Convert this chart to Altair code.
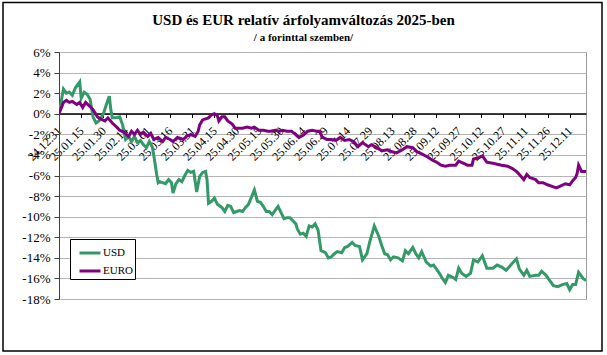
import altair as alt
import pandas as pd

# Day offsets from 2024-12-31 and relative change (%)
usd_days = [0, 3, 5, 7, 9, 11, 14, 15, 17, 19, 21, 23, 25, 27, 30, 32, 34, 35, 36, 38, 41, 43, 45, 47, 49, 51, 53, 55, 57, 59,
            61, 63, 64, 66, 67, 68, 70, 72, 74, 76, 77, 79, 81, 83, 85, 87, 89, 91, 93, 95, 97, 99, 100, 101, 103, 105, 107,
            110, 112, 114, 116, 118, 120, 122, 124, 126, 128, 130, 132, 134, 136, 138, 140, 142, 144, 146, 148, 150, 152,
            154, 156, 158, 160, 161, 163, 165, 167, 169, 171, 173, 175, 177, 180, 182, 184, 186, 188, 191, 193, 195, 198,
            200, 203, 205, 208, 210, 213, 216, 218, 220, 222, 224, 226, 229, 232, 234, 236, 239, 241, 243, 245, 248, 251,
            253, 255, 257, 259, 261, 263, 266, 268, 270, 272, 275, 278, 280, 283, 286, 289, 293, 296, 299, 302, 304, 307,
            309, 311, 314, 316, 318, 322, 324, 326, 329, 332, 334, 337, 340, 343, 345, 347, 349, 351, 354, 356]
usd_vals = [0.0, 2.4, 2.0, 2.1, 1.8, 2.5, 3.1, 1.5, 2.1, 1.9, 1.4, -0.3, -0.9, -0.7, 0.0, 0.9, 1.7, 0.4, -0.4, -0.4, -0.3,
            -1.1, -2.5, -2.2, -2.7, -2.2, -2.8, -2.6, -3.0, -3.3, -2.7, -3.2, -4.0, -5.9, -6.7, -6.6, -6.7, -6.8, -6.4,
            -6.7, -7.7, -6.8, -6.4, -6.6, -6.0, -5.5, -5.7, -5.6, -7.6, -6.1, -5.7, -5.6, -6.4, -8.7, -8.5, -8.2, -8.8,
            -9.1, -9.5, -8.9, -9.0, -9.6, -9.5, -9.4, -9.5, -9.1, -8.8, -8.1, -7.4, -8.5, -8.6, -9.0, -9.5, -9.5, -9.8,
            -9.4, -9.0, -9.6, -10.2, -10.1, -10.1, -10.4, -10.7, -11.2, -11.7, -11.6, -11.9, -10.9, -11.0, -10.7, -11.3,
            -13.3, -13.5, -14.0, -13.9, -13.6, -13.4, -13.5, -13.0, -12.9, -12.5, -12.8, -12.9, -14.2, -13.6, -12.4,
            -10.9, -11.9, -12.8, -13.6, -13.7, -14.2, -13.9, -14.0, -14.3, -13.3, -13.6, -13.0, -13.6, -14.0, -13.4,
            -14.4, -14.8, -14.7, -15.1, -15.5, -16.0, -16.4, -15.7, -15.9, -16.1, -15.0, -15.5, -15.8, -15.5, -14.2,
            -14.4, -13.8, -15.0, -15.0, -14.7, -14.9, -15.2, -14.9, -14.4, -14.1, -15.1, -15.7, -15.2, -15.8, -15.7,
            -15.7, -15.3, -15.7, -16.3, -16.7, -16.8, -16.6, -16.5, -17.1, -16.6, -16.6, -15.4, -16.0, -16.2]

eur_days = [0, 3, 5, 7, 9, 12, 14, 16, 18, 21, 23, 26, 28, 31, 33, 36, 39, 41, 44, 47, 49, 51, 53, 55, 57, 60, 62, 64, 67,
            70, 72, 75, 77, 80, 84, 86, 89, 92, 94, 95, 97, 99, 101, 103, 105, 107, 108, 110, 112, 114, 117, 119, 122,
            124, 127, 130, 132, 135, 138, 141, 143, 146, 149, 151, 154, 157, 159, 162, 165, 168, 171, 174, 176, 178,
            181, 184, 187, 190, 193, 196, 199, 202, 205, 209, 211, 215, 218, 222, 225, 228, 232, 235, 239, 242, 245,
            249, 252, 255, 258, 261, 264, 268, 270, 273, 276, 279, 280, 283, 286, 289, 293, 296, 299, 303, 306, 309,
            311, 314, 316, 318, 322, 324, 327, 330, 334, 336, 339, 342, 345, 347, 349, 350, 351, 353, 356]
eur_vals = [0.0, 1.1, 1.3, 1.1, 1.2, 0.9, 1.1, 0.6, 1.1, 0.7, 0.4, -0.3, -0.5, -0.7, -0.4, -0.9, -1.3, -1.6, -1.8, -2.2,
            -1.7, -2.0, -1.6, -2.0, -1.8, -2.2, -1.9, -2.5, -2.3, -2.7, -2.3, -2.5, -2.7, -2.3, -2.5, -2.2, -2.0, -2.2,
            -1.7, -1.1, -0.6, -0.5, -0.4, -0.1, 0.0, -0.2, -0.7, -0.3, -0.3, -0.7, -1.0, -1.4, -1.4, -1.4, -1.3, -1.4,
            -1.3, -1.6, -1.6, -1.7, -1.7, -1.6, -1.7, -1.6, -1.7, -1.7, -1.9, -2.3, -2.1, -1.7, -1.6, -1.7, -1.7, -2.3,
            -2.5, -2.5, -2.6, -2.3, -2.6, -2.5, -2.7, -3.2, -2.8, -3.2, -3.0, -3.3, -3.6, -3.5, -3.7, -3.8, -3.5, -3.2,
            -3.3, -3.7, -3.9, -4.2, -4.5, -4.7, -5.0, -5.1, -5.0, -5.0, -4.6, -4.8, -5.0, -5.0, -4.4, -4.3, -4.1, -4.7,
            -4.8, -4.9, -5.0, -5.1, -5.3, -5.6, -5.9, -6.4, -5.9, -6.2, -6.4, -6.7, -6.7, -6.9, -7.1, -7.2, -7.0, -6.8,
            -6.9, -6.5, -6.2, -5.8, -5.0, -5.6, -5.6]

series_names = ["USD", "EURO"]
series_colors = ["#339966", "#800080"]
y_ticks = list(range(-18, 7, 2))

start = pd.Timestamp("2024-12-31")
end = pd.Timestamp("2025-12-22")
tick_dates = pd.date_range(start, periods=24, freq="15D")


def to_ms(ts):
    return int((ts - pd.Timestamp("1970-01-01")).total_seconds() * 1000)


rows = []
for name, days, vals in [("USD", usd_days, usd_vals), ("EURO", eur_days, eur_vals)]:
    for d, v in zip(days, vals):
        rows.append({"date": (start + pd.Timedelta(days=d)).strftime("%Y-%m-%d"), "v": v, "series": name})
df = pd.DataFrame(rows)

FONT = "Liberation Serif"

lines = alt.Chart(df).mark_line(strokeWidth=3, clip=True).encode(
    x=alt.X("date:T",
            scale=alt.Scale(type="utc", domain=[to_ms(start), to_ms(end)]),
            axis=alt.Axis(values=[to_ms(t) for t in tick_dates],
                          labelExpr="utcFormat(datum.value, '%y.%m.%d')",
                          labelAngle=315, labelAlign="right", labelBaseline="middle",
                          labelFont=FONT, labelFontSize=12, labelColor="black",
                          labelPadding=11, labelOverlap=False, labelFlush=False,
                          domainColor="black", domainWidth=1.5, tickColor="black", tickSize=4,
                          grid=False, title=None, offset=-185.5)),
    y=alt.Y("v:Q",
            scale=alt.Scale(domain=[-18, 6], nice=False, zero=False),
            axis=alt.Axis(values=y_ticks, labelExpr="datum.value + '%'",
                          labelFont=FONT, labelFontSize=13, labelColor="black", labelPadding=4,
                          domainColor="#404040", tickColor="#404040", tickSize=5,
                          grid=True, gridColor="#b4b4b4", gridWidth=1, title=None)),
    color=alt.Color("series:N",
                    scale=alt.Scale(domain=series_names, range=series_colors),
                    sort=series_names,
                    legend=alt.Legend(orient="none", legendX=11, legendY=187, title=None,
                                      strokeColor="black", fillColor="white", padding=2,
                                      labelFont=FONT, labelFontSize=11, labelColor="black",
                                      symbolType="stroke", symbolStrokeWidth=3, symbolSize=441,
                                      symbolOffset=6, rowPadding=0, labelOffset=1)),
    order=alt.Order("series_order:Q"),
).transform_calculate(series_order="datum.series == 'USD' ? 0 : 1")

frame = alt.Chart(pd.DataFrame({"a": [0]})).mark_rect(filled=False, stroke="black", strokeWidth=1.5).encode(
    x=alt.value(-56), x2=alt.value(543), y=alt.value(-49.5), y2=alt.value(299)
)

chart = alt.layer(frame, lines).properties(
    width=527, height=247,
    padding={"left": 59, "top": 52, "right": 21, "bottom": 56},
    autosize=alt.AutoSizeParams(type="none"),
    title=alt.TitleParams(text="USD és EUR  relatív árfolyamváltozás 2025-ben",
                          subtitle="/ a forinttal szemben/",
                          font=FONT, fontSize=15, fontWeight="bold", color="black",
                          subtitleFont=FONT, subtitleFontSize=11, subtitleFontWeight="bold",
                          subtitleColor="black", subtitlePadding=4,
                          anchor="middle", dx=-19, offset=-41),
    background="white",
).configure_view(stroke="#9a9a9a", strokeWidth=1)

chart.save("out.html", embed_options={"renderer": "svg", "actions": False})
